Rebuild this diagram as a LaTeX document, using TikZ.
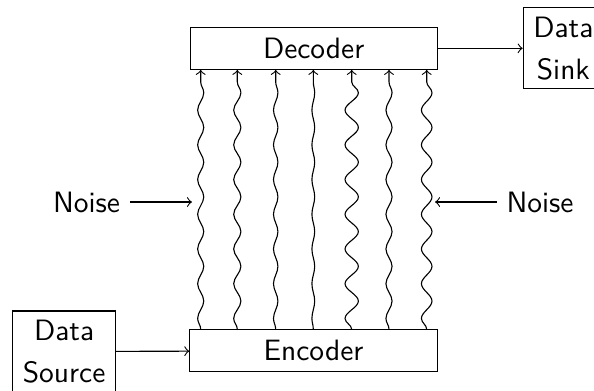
\documentclass[tikz,border=0pt]{standalone}
\usetikzlibrary{decorations.pathmorphing}
\begin{document}
\begin{tikzpicture}[x=0.36pt,y=-0.36pt,font=\sffamily\fontsize{10.6}{15}\selectfont,
  box/.style={draw,minimum width=89pt,minimum height=15.1pt,inner sep=0pt},
  endbox/.style={draw,align=center,inner xsep=3.6pt,inner ysep=3.3pt},
  wave/.style 2 args={->,decorate,decoration={snake,amplitude=#1,segment length=#2,post length=1pt}}]
\useasboundingbox (0,0) rectangle (594,390);
\node[box] (dec) at (313.7,48.3) {Decoder};
\node[box] (enc) at (313.5,350.8) {Encoder};
\node[endbox,anchor=west] (src) at (12.3,351.5) {Data\\Source};
\node[endbox,anchor=west] (sink) at (522.7,48.3) {Data\\Sink};
\node (nl) at (86.5,202) {Noise};
\node (nr) at (540,202) {Noise};
\coordinate (tl) at (192,202);
\coordinate (tr) at (435,202);
\foreach \i/\x in {1/200.7,2/237.3,3/275.7,4/313.3,5/351.7,6/389,7/426.7}
  \coordinate (c\i) at (\x,0);
\draw[wave={1.1pt}{12.5pt}] (enc.north -| c1) -- (dec.south -| c1);
\draw[wave={1.3pt}{12.5pt}] (enc.north -| c2) -- (dec.south -| c2);
\draw[wave={0.8pt}{12.5pt}] (enc.north -| c3) -- (dec.south -| c3);
\draw[wave={0.5pt}{12.5pt}] (enc.north -| c4) -- (dec.south -| c4);
\draw[wave={2.4pt}{12.5pt}] (enc.north -| c5) -- (dec.south -| c5);
\draw[wave={1.1pt}{12.5pt}] (enc.north -| c6) -- (dec.south -| c6);
\draw[wave={1.9pt}{12.5pt}] (enc.north -| c7) -- (dec.south -| c7);
\draw[->] (nl) -- (tl);
\draw[->] (nr) -- (tr);
\draw[->] (src) -- (enc);
\draw[->] (dec) -- (sink);
\end{tikzpicture}
\end{document}
